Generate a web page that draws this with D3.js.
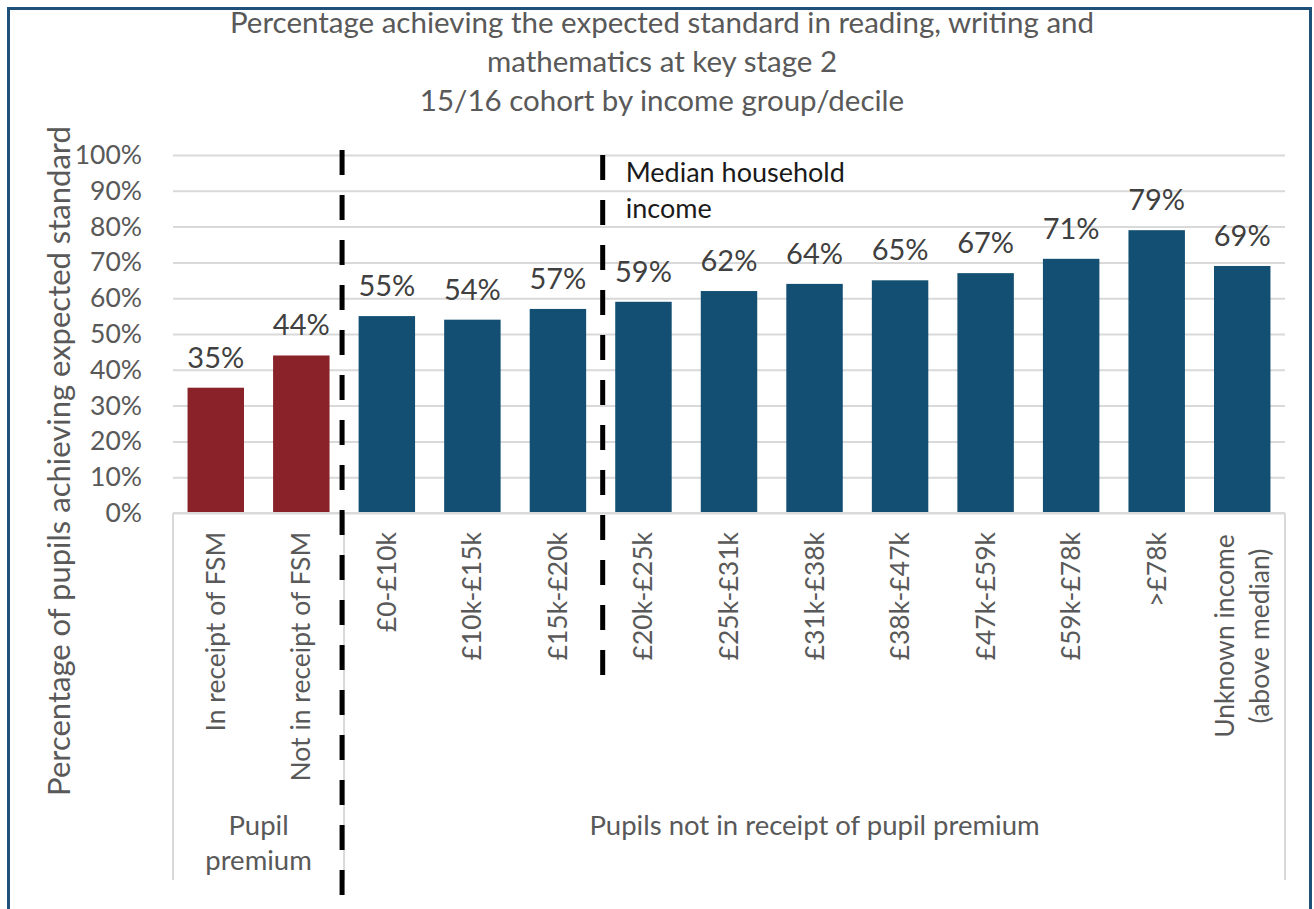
<!DOCTYPE html>
<html>
<head>
<meta charset="utf-8">
<script src="https://cdn.jsdelivr.net/npm/d3@7"></script>
<style>
    body { margin: 0; background: #fff; }
    text { font-family: Lato, "Open Sans", sans-serif; }
</style>
</head>
<body>
<div id="canvas"></div>
<script>
"use strict"

/* chart data */
let categories = ["In receipt of FSM", "Not in receipt of FSM", "£0-£10k", "£10k-£15k", "£15k-£20k",
    "£20k-£25k", "£25k-£31k", "£31k-£38k", "£38k-£47k", "£47k-£59k", "£59k-£78k", ">£78k",
    "Unknown income|(above median)"]
let values = [0.35, 0.44, 0.55, 0.54, 0.57, 0.59, 0.62, 0.64, 0.65, 0.67, 0.71, 0.79, 0.69]
let groupOf = ["pp", "pp", "npp", "npp", "npp", "npp", "npp", "npp", "npp", "npp", "npp", "npp", "npp"]
let groupNames = ["Pupil|premium", "Pupils not in receipt of pupil premium"]
let groupKeys = ["pp", "npp"]
let yTicks = [0, 0.1, 0.2, 0.3, 0.4, 0.5, 0.6, 0.7, 0.8, 0.9, 1.0]
let titleLines = ["Percentage achieving the expected standard in reading, writing and",
    "mathematics at key stage 2", "15/16 cohort by income group/decile"]

let svgWidth = 1314
let svgHeight = 909
let plot = { left: 173, right: 1285, top: 155, bottom: 513, axisBottom: 880 }

let svg = d3.select("#canvas")
    .append("svg")
    .attr("width", svgWidth)
    .attr("height", svgHeight)

svg.append("rect")
    .attr("width", svgWidth)
    .attr("height", svgHeight)
    .attr("fill", "#fff")

/* outer border */
svg.append("rect")
    .attr("x", 8.5)
    .attr("y", 8.5)
    .attr("width", 1302)
    .attr("height", 940)
    .attr("fill", "none")
    .attr("stroke", "#1F5077")
    .attr("stroke-width", 3)

/* scales */
let xScale = d3.scaleBand()
    .domain(categories)
    .range([plot.left, plot.right])
    .paddingInner(0.34)
    .paddingOuter(0.17)

let yScale = d3.scaleLinear()
    .domain([0, 1])
    .range([plot.bottom, plot.top])

/* title */
svg.append("g").selectAll("text")
    .data(titleLines)
    .join("text")
    .attr("x", 662)
    .attr("y", (d, i) => 33 + i * 39)
    .attr("text-anchor", "middle")
    .style("font-size", "29.5px")
    .style("fill", "#595959")
    .text(d => d)

/* y axis with gridlines */
let yAxis = svg.append("g")
    .attr("transform", `translate(${plot.left},0)`)
    .call(d3.axisLeft(yScale)
        .tickValues(yTicks)
        .tickFormat(d3.format(".0%"))
        .tickSize(-(plot.right - plot.left))
        .tickPadding(31))
yAxis.select(".domain").remove()
yAxis.selectAll(".tick line")
    .attr("stroke", "#D9D9D9")
    .attr("stroke-width", 2)
yAxis.selectAll(".tick text")
    .attr("fill", "#595959")
    .style("font-size", "26.5px")
    .style("font-family", "Lato, sans-serif")

/* y axis title */
svg.append("text")
    .attr("transform", `translate(70,461) rotate(-90)`)
    .attr("text-anchor", "middle")
    .style("font-size", "31px")
    .style("fill", "#595959")
    .text("Percentage of pupils achieving expected standard")

/* bars */
svg.append("g").selectAll("rect")
    .data(values)
    .join("rect")
    .attr("x", (d, i) => xScale(categories[i]))
    .attr("width", xScale.bandwidth())
    .attr("y", d => yScale(d))
    .attr("height", d => yScale(0) - yScale(d))
    .attr("fill", (d, i) => groupOf[i] === "pp" ? "#8A2329" : "#124F73")

/* value labels */
svg.append("g").selectAll("text")
    .data(values)
    .join("text")
    .attr("x", (d, i) => xScale(categories[i]) + xScale.bandwidth() / 2)
    .attr("y", d => yScale(d) - 20)
    .attr("text-anchor", "middle")
    .style("font-size", "29px")
    .style("fill", "#404040")
    .text(d => d3.format(".0%")(d))

/* category axis frame */
let step = xScale.step()
let frame = svg.append("g")
    .attr("stroke", "#D9D9D9")
    .attr("stroke-width", 2)
frame.append("line")
    .attr("x1", plot.left).attr("x2", plot.right)
    .attr("y1", plot.bottom).attr("y2", plot.bottom)
let groupEdges = [0, 2, 13]
frame.selectAll("line.edge")
    .data(groupEdges)
    .join("line")
    .classed("edge", true)
    .attr("x1", d => plot.left + d * step)
    .attr("x2", d => plot.left + d * step)
    .attr("y1", plot.bottom)
    .attr("y2", plot.axisBottom)

/* category labels */
let catLabels = svg.append("g").selectAll("text")
    .data(categories)
    .join("text")
    .attr("transform", (d, i) => {
        let cx = xScale(d) + xScale.bandwidth() / 2
        return `translate(${cx},${d.includes("|") ? 636 : 532}) rotate(-90)`
    })
    .attr("text-anchor", d => d.includes("|") ? "middle" : "end")
    .style("font-size", "26.5px")
    .style("fill", "#595959")
catLabels.each(function(d) {
    let lines = d.split("|")
    let t = d3.select(this)
    lines.forEach((line, j) => {
        t.append("tspan")
            .attr("x", 0)
            .attr("y", 9 + (j - (lines.length - 1) / 2) * 35)
            .text(line)
    })
})

/* group labels */
groupKeys.forEach((key, g) => {
    let first = groupOf.indexOf(key)
    let last = groupOf.lastIndexOf(key)
    let cx = plot.left + (first + last + 1) / 2 * step
    let lines = groupNames[g].split("|")
    svg.append("g").selectAll("text")
        .data(lines)
        .join("text")
        .attr("x", cx)
        .attr("y", (d, j) => 835 + j * 35)
        .attr("text-anchor", "middle")
        .style("font-size", "27.5px")
        .style("fill", "#595959")
        .text(d => d)
})

/* dashed divider lines */
let dividers = [
    { at: 2, shift: -2, y1: 150, y2: 895 },
    { at: 5, shift: 2, y1: 155, y2: 675 }
]
svg.append("g").selectAll("line")
    .data(dividers)
    .join("line")
    .attr("x1", d => plot.left + d.at * step + d.shift)
    .attr("x2", d => plot.left + d.at * step + d.shift)
    .attr("y1", d => d.y1)
    .attr("y2", d => d.y2)
    .attr("stroke", "#000")
    .attr("stroke-width", 5)
    .attr("stroke-dasharray", "25,20")

/* median annotation */
svg.append("g").selectAll("text")
    .data(["Median household", "income"])
    .join("text")
    .attr("x", plot.left + 5 * step + 25)
    .attr("y", (d, i) => 182 + i * 36)
    .style("font-size", "27px")
    .style("fill", "#1A1A1A")
    .text(d => d)
</script>
</body>
</html>
